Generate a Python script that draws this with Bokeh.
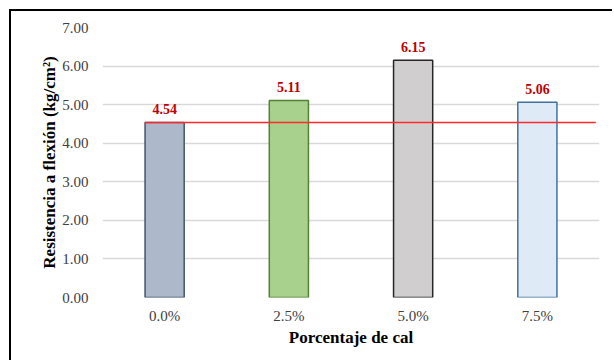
from bokeh.plotting import figure
from bokeh.models import ColumnDataSource, FixedTicker, NumeralTickFormatter, Range1d
from bokeh.core.properties import value
from bokeh.embed import file_html
from bokeh.resources import INLINE

# Flexural strength by lime percentage
categories = ["0.0%", "2.5%", "5.0%", "7.5%"]
strength = [4.54, 5.11, 6.15, 5.06]
fills = ["#adb9ca", "#a9d18e", "#d0cece", "#deebf7"]
edges = ["#44546a", "#548235", "#262626", "#41719c"]
y_ticks = [0, 1, 2, 3, 4, 5, 6, 7]

SERIF = "Liberation Serif"

src = ColumnDataSource(dict(
    cat=categories,
    val=strength,
    fill=fills,
    edge=edges,
    lbl=[f"{v:.2f}" for v in strength],
))

# Canvas offset by the chart-area border drawn through CSS
OFF = 11
p = figure(
    x_range=categories,
    y_range=Range1d(0, 7),
    width=614 - OFF, height=362 - OFF,
    output_backend="svg",
    toolbar_location=None,
    min_border_left=102 - OFF, min_border_right=15,
    min_border_top=27 - OFF, min_border_bottom=65,
)
p.styles = {
    "margin-left": "9px", "margin-top": "9px",
    "border-left": "2px solid #000", "border-top": "2px solid #000",
}
p.outline_line_color = None

p.vbar(x="cat", top="val", width=0.315, source=src,
       fill_color="fill", line_color="edge", line_width=1.5)

# Reference line at the 0.0% value
base = strength[0]
p.line(x=[(categories[0], -0.16), (categories[-1], 0.47)], y=[base, base],
       line_color="#ff2a2a", line_width=1.5)

p.text(x="cat", y="val", text="lbl", source=src,
       text_font=value(SERIF), text_font_size="14px", text_font_style="bold",
       text_color="#c00000", text_align="center", text_baseline="bottom",
       y_offset=-8)

# Grid and axes
p.xgrid.grid_line_color = None
p.ygrid.grid_line_color = "#d9d9d9"
p.ygrid.grid_line_width = 1.5
p.yaxis.ticker = FixedTicker(ticks=y_ticks)
p.yaxis.formatter = NumeralTickFormatter(format="0.00")

for ax in (p.xaxis[0], p.yaxis[0]):
    ax.axis_line_color = None
    ax.major_tick_line_color = None
    ax.minor_tick_line_color = None
    ax.major_label_text_font = SERIF
    ax.major_label_text_font_size = "15px"
    ax.major_label_text_color = "#404040"
    ax.axis_label_text_font = SERIF
    ax.axis_label_text_font_size = "17px"
    ax.axis_label_text_font_style = "bold"
    ax.axis_label_text_color = "#000000"

p.yaxis.axis_label = "Resistencia a flexión (kg/cm²)"
p.yaxis.major_label_standoff = 8
p.yaxis.axis_label_standoff = 0
p.xaxis.axis_label = "Porcentaje de cal"
p.xaxis.major_label_standoff = 4
p.xaxis.axis_label_standoff = 1

open("out.html", "w").write(file_html(p, INLINE))
